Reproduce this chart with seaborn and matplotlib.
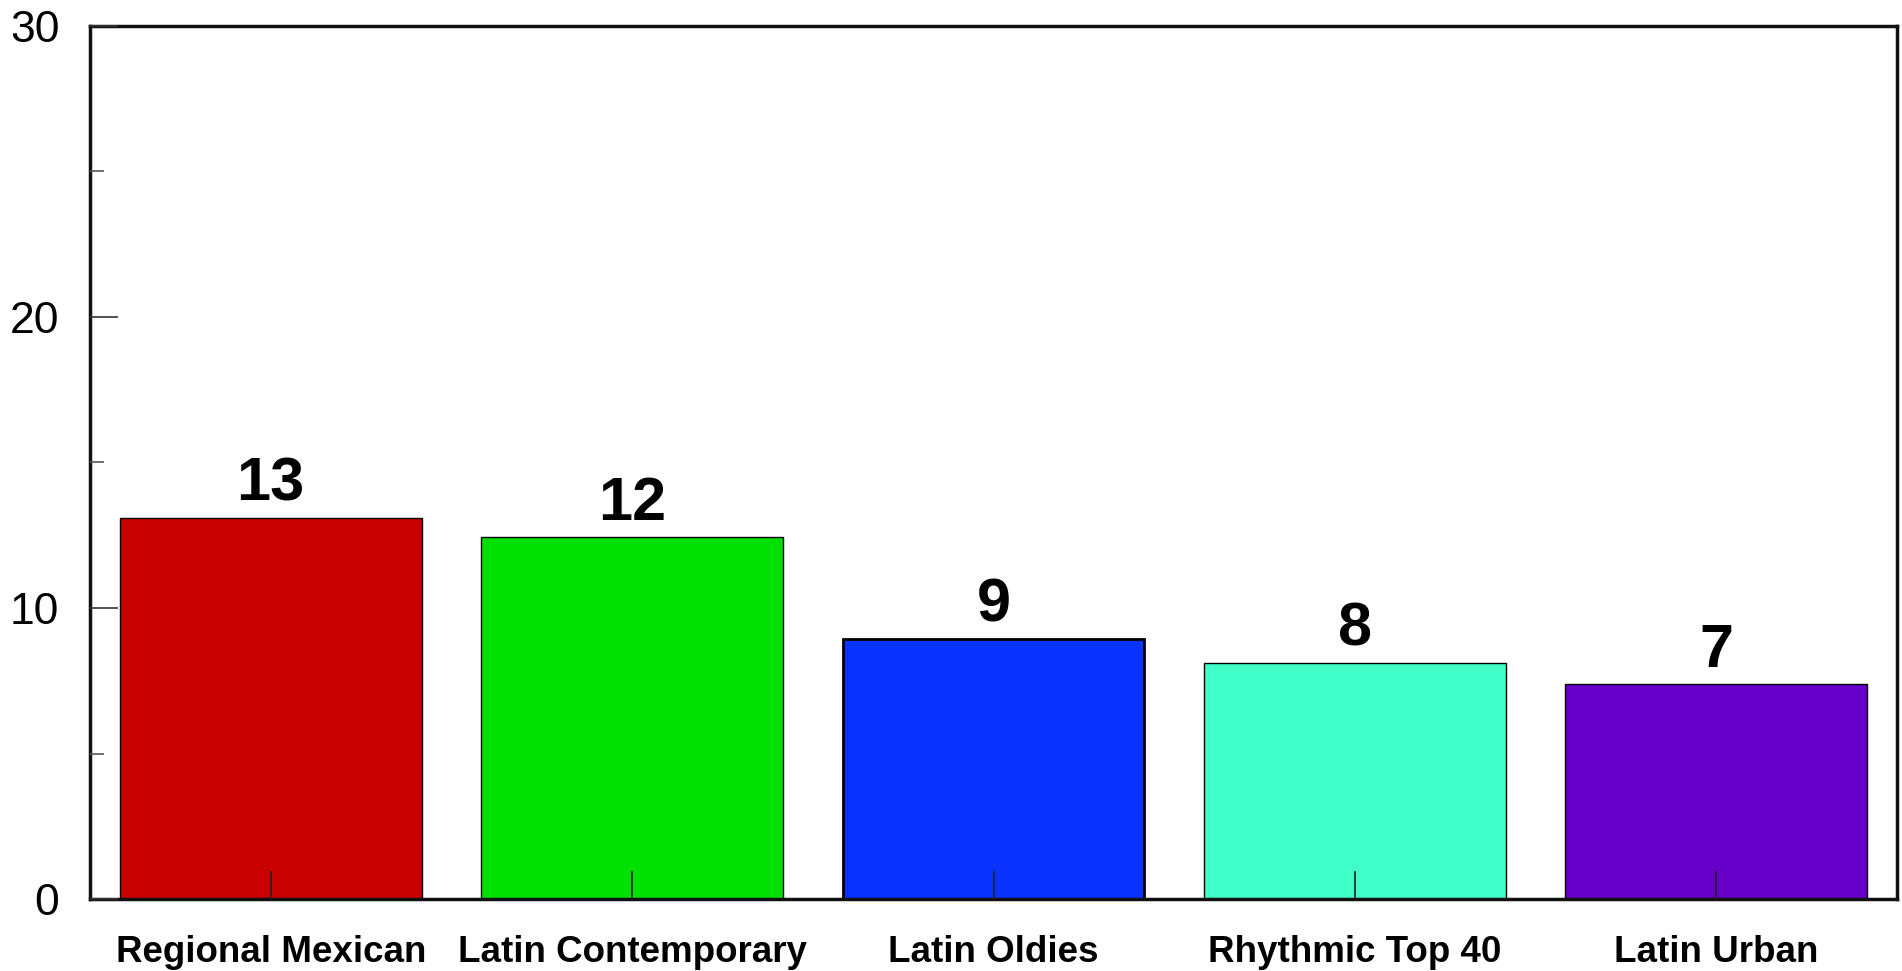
import pandas as pd
import matplotlib
matplotlib.use("Agg")
import matplotlib.pyplot as plt
import seaborn as sns
from matplotlib.ticker import MultipleLocator

# ----------------------------
# Data
# ----------------------------
formats = ["Regional Mexican", "Latin Contemporary", "Latin Oldies", "Rhythmic Top 40", "Latin Urban"]
values = [13.08, 12.43, 8.92, 8.10, 7.38]
colors = ["#c80000", "#00e000", "#0a32ff", "#40ffc8", "#6600c8"]
edge_widths = [1.0, 1.0, 2.0, 1.0, 1.0]

df = pd.DataFrame({"format": formats, "value": values})

# Style
sns.set_style("white")
plt.rcParams["font.family"] = ["Liberation Sans", "DejaVu Sans"]
plt.rcParams["text.color"] = "black"
plt.rcParams["xtick.color"] = "black"
plt.rcParams["ytick.color"] = "black"

fig = plt.figure(figsize=(19.02, 9.71), dpi=100)
ax = fig.add_axes([90 / 1902, 1 - 899 / 971, 1807 / 1902, 873 / 971])

sns.barplot(data=df, x="format", y="value", hue="format", palette=colors,
            legend=False, width=0.835, edgecolor="black", linewidth=1.0,
            saturation=1, ax=ax)

for patch, lw in zip(ax.patches, edge_widths):
    patch.set_linewidth(lw)

# value labels (rounded)
for i, v in enumerate(values):
    ax.text(i, v + 0.6, f"{v:.0f}", ha="center", va="baseline",
            fontsize=44, fontweight="bold", color="black")

ax.set_xlim(-0.5, len(formats) - 0.5)
ax.set_ylim(0, 30)
ax.set_axisbelow(False)
ax.yaxis.set_major_locator(MultipleLocator(10))
ax.yaxis.set_minor_locator(MultipleLocator(5))

ax.tick_params(axis="y", which="major", direction="in", length=20, width=1.2,
               labelsize=32, pad=22, color="#333333", labelcolor="black",
               left=True, right=False)
ax.tick_params(axis="y", which="minor", direction="in", length=10, width=1.2,
               color="#555555", left=True, right=False)
ax.tick_params(axis="x", which="major", direction="in", length=20, width=1.2,
               labelsize=26.5, pad=26, color="#222222", labelcolor="black",
               bottom=True, top=False)
for lbl in ax.get_xticklabels():
    lbl.set_fontweight("bold")

ax.set_xlabel("")
ax.set_ylabel("")

for side in ["top", "bottom", "left", "right"]:
    ax.spines[side].set_visible(True)
    ax.spines[side].set_color("#111111")
    ax.spines[side].set_linewidth(2.5)

fig.savefig("out.png", dpi=100, facecolor="white")
